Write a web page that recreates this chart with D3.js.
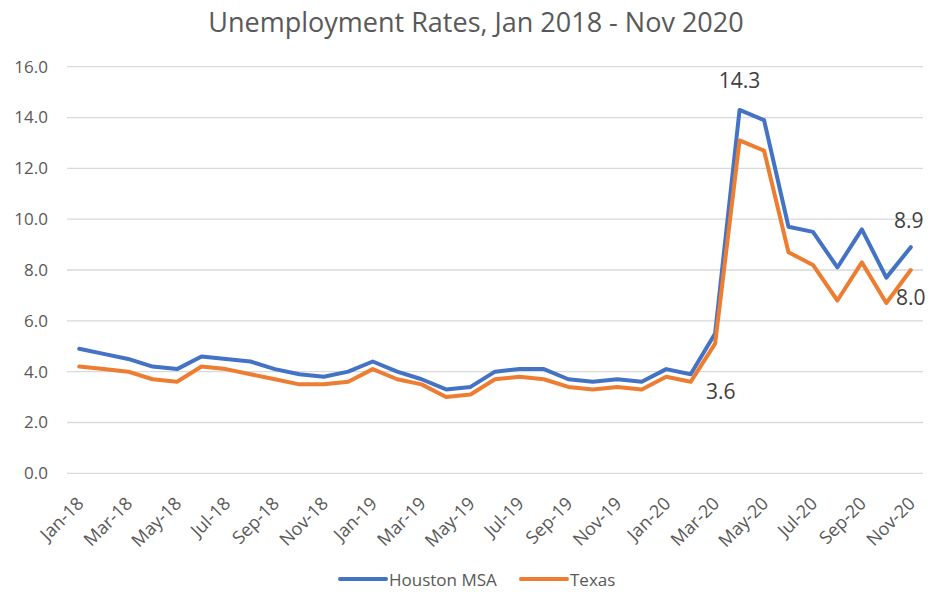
<!DOCTYPE html>
<html>
<head>
<meta charset="utf-8">
<script src="https://cdn.jsdelivr.net/npm/d3@7"></script>
<style>
  html, body { margin: 0; padding: 0; background: #fff; }
  svg { display: block; font-family: "Open Sans", "Noto Sans", "Liberation Sans", sans-serif; }
</style>
</head>
<body>
<svg id="chart" width="930" height="592"></svg>
<script>
// Monthly unemployment rates, Jan 2018 - Nov 2020
const months = [
  "Jan-18","Feb-18","Mar-18","Apr-18","May-18","Jun-18","Jul-18","Aug-18","Sep-18","Oct-18","Nov-18","Dec-18",
  "Jan-19","Feb-19","Mar-19","Apr-19","May-19","Jun-19","Jul-19","Aug-19","Sep-19","Oct-19","Nov-19","Dec-19",
  "Jan-20","Feb-20","Mar-20","Apr-20","May-20","Jun-20","Jul-20","Aug-20","Sep-20","Oct-20","Nov-20"
];
const houston = [
  4.9, 4.7, 4.5, 4.2, 4.1, 4.6, 4.5, 4.4, 4.1, 3.9, 3.8, 4.0,
  4.4, 4.0, 3.7, 3.3, 3.4, 4.0, 4.1, 4.1, 3.7, 3.6, 3.7, 3.6,
  4.1, 3.9, 5.5, 14.3, 13.9, 9.7, 9.5, 8.1, 9.6, 7.7, 8.9
];
const texas = [
  4.2, 4.1, 4.0, 3.7, 3.6, 4.2, 4.1, 3.9, 3.7, 3.5, 3.5, 3.6,
  4.1, 3.7, 3.5, 3.0, 3.1, 3.7, 3.8, 3.7, 3.4, 3.3, 3.4, 3.3,
  3.8, 3.6, 5.1, 13.1, 12.7, 8.7, 8.2, 6.8, 8.3, 6.7, 8.0
];
const yTicks = [0, 2, 4, 6, 8, 10, 12, 14, 16];
const seriesNames = ["Houston MSA", "Texas"];
const seriesColors = ["#4472C4", "#ED7D31"];

// Labelled points: [series index, month index, dx, dy]
const labelled = [
  [0, 27, 0, -30],
  [0, 34, -2, -27],
  [1, 34, 0, 27],
  [1, 25, 30, 9]
];

const svg = d3.select("#chart");
const plotLeft = 67, plotRight = 923, plotTop = 66.7, plotBottom = 473.3;

const x = d3.scaleBand().domain(months).range([plotLeft, plotRight]);
const y = d3.scaleLinear().domain([0, 16]).range([plotBottom, plotTop]);
const cx = m => x(m) + x.bandwidth() / 2;

// Title
svg.append("text")
  .attr("x", 476).attr("y", 32)
  .attr("text-anchor", "middle")
  .attr("font-size", 27)
  .attr("fill", "#595959")
  .text("Unemployment Rates, Jan 2018 - Nov 2020");

// Gridlines
svg.append("g")
  .selectAll("line").data(yTicks).join("line")
  .attr("x1", plotLeft).attr("x2", plotRight)
  .attr("y1", d => y(d)).attr("y2", d => y(d))
  .attr("stroke", "#d9d9d9").attr("stroke-width", 1.3);

// Y axis
const yAxis = svg.append("g")
  .attr("transform", `translate(${plotLeft - 19},0)`)
  .call(d3.axisLeft(y).tickValues(yTicks).tickFormat(d3.format(".1f")).tickSize(0).tickPadding(0));
yAxis.select(".domain").remove();
yAxis.selectAll("text")
  .attr("font-size", 17)
  .attr("fill", "#595959")
  .attr("font-family", "'Open Sans', sans-serif");

// X axis, every second month labelled
const xAxis = svg.append("g")
  .attr("transform", `translate(0,${plotBottom})`)
  .call(d3.axisBottom(x).tickValues(months.filter((d, i) => i % 2 === 0)).tickSize(0).tickPadding(0));
xAxis.select(".domain").remove();
xAxis.selectAll("text")
  .attr("font-size", 18)
  .attr("fill", "#595959")
  .attr("font-family", "'Open Sans', sans-serif")
  .attr("text-anchor", "end")
  .attr("dy", "0.35em")
  .attr("transform", "translate(1,27) rotate(-45)");

// Lines
const line = d3.line().x((d, i) => cx(months[i])).y(d => y(d));
[houston, texas].forEach((vals, s) => {
  svg.append("path")
    .datum(vals)
    .attr("d", line)
    .attr("fill", "none")
    .attr("stroke", seriesColors[s])
    .attr("stroke-width", 4)
    .attr("stroke-linejoin", "round")
    .attr("stroke-linecap", "round");
});

// Data labels
const allSeries = [houston, texas];
svg.append("g")
  .selectAll("text").data(labelled).join("text")
  .attr("x", d => cx(months[d[1]]) + d[2])
  .attr("y", d => y(allSeries[d[0]][d[1]]) + d[3])
  .attr("text-anchor", "middle")
  .attr("dominant-baseline", "central")
  .attr("font-size", 21)
  .attr("fill", "#404040")
  .text(d => allSeries[d[0]][d[1]].toFixed(1));

// Legend
const legend = svg.append("g");
const legendX = [340, 521];
seriesNames.forEach((name, i) => {
  legend.append("line")
    .attr("x1", legendX[i]).attr("x2", legendX[i] + 46)
    .attr("y1", 579).attr("y2", 579)
    .attr("stroke", seriesColors[i]).attr("stroke-width", 4)
    .attr("stroke-linecap", "round");
  legend.append("text")
    .attr("x", legendX[i] + 49).attr("y", 579)
    .attr("dominant-baseline", "central")
    .attr("font-size", 17)
    .attr("fill", "#595959")
    .text(name);
});
</script>
</body>
</html>
